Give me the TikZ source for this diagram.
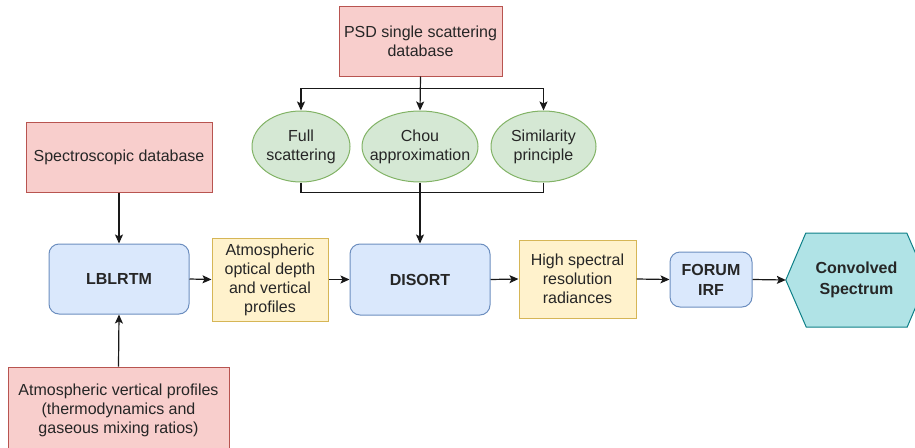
\documentclass[tikz,border=0pt]{standalone}
\usepackage{fontspec}
\setmainfont{Liberation Sans}
\usepackage{tikz}
\usepackage{xcolor}
\usetikzlibrary{arrows.meta,shapes.geometric}

\definecolor{redfill}{HTML}{F8CECC}
\definecolor{redline}{HTML}{B85450}
\definecolor{bluefill}{HTML}{DAE8FC}
\definecolor{blueline}{HTML}{6C8EBF}
\definecolor{yelfill}{HTML}{FFF2CC}
\definecolor{yelline}{HTML}{D6B656}
\definecolor{grnfill}{HTML}{D5E8D4}
\definecolor{grnline}{HTML}{82B366}
\definecolor{hexfill}{HTML}{B0E3E6}
\definecolor{hexline}{HTML}{0E8088}

\begin{document}
\begin{tikzpicture}[x=1pt,y=-1pt,
        every node/.style={font=\fontsize{16}{19}\selectfont, align=center, inner sep=0pt, text=black!85},
        every label/.style={font=\fontsize{16}{19}\selectfont, align=center, inner sep=0pt, text=black!85},
        redbox/.style={draw=redline, fill=redfill, line width=1pt},
        yelbox/.style={draw=yelline, fill=yelfill, line width=1pt},
        bluebox/.style={draw=blueline, fill=bluefill, line width=1pt, rounded corners=10pt, font=\fontsize{16}{20}\selectfont\bfseries},
        ellip/.style={ellipse, draw=grnline, fill=grnfill, line width=1pt, minimum height=71pt},
        arr/.style={-{Stealth[length=9pt,width=8pt,inset=2pt]}, line width=1.2pt, black!90}]
                \useasboundingbox (0,0) rectangle (915,447);
                \node[redbox, minimum width=163pt, minimum height=70pt] (psd) at (420.5,41) {PSD single scattering\\database};
                \node[ellip, minimum width=98pt, label=center:{Full\\scattering}] (full) at (301,146.5) {};
                \node[ellip, minimum width=116pt, label=center:{Chou\\approximation}] (chou) at (420,146.5) {};
                \node[ellip, minimum width=105pt, label=center:{Similarity\\principle}] (sim) at (543.5,146.5) {};
                \node[redbox, minimum width=186pt, minimum height=70pt] (spec) at (119,157) {Spectroscopic database};
                \node[redbox, minimum width=221pt, minimum height=86pt] (avp) at (118.5,410) {Atmospheric vertical profiles\\(thermodynamics and\\gaseous mixing ratios)};
                \node[bluebox, minimum width=140pt, minimum height=70pt] (lblrtm) at (119,279) {LBLRTM};
                \node[yelbox, minimum width=116pt, minimum height=83pt] (aod) at (270,279.5) {Atmospheric\\optical depth\\and vertical\\profiles};
                \node[bluebox, minimum width=140pt, minimum height=71pt] (disort) at (420,279.5) {DISORT};
                \node[yelbox, minimum width=117pt, minimum height=78pt] (hsr) at (577.5,279) {High spectral\\resolution\\radiances};
                \node[bluebox, minimum width=82pt, minimum height=55pt] (irf) at (711,279.5) {FORUM\\IRF};
                \node[minimum width=141pt, minimum height=94pt] (conv) at (856.5,280) {};
                \draw[draw=hexline, fill=hexfill, line width=1pt] (conv.west) -- ++(20,-47) -- ++(101,0) -- (conv.east) -- ++(-20,47) -- ++(-101,0) -- cycle;
                \node[font=\fontsize{16}{21}\selectfont\bfseries] at (conv.center) {Convolved\\Spectrum};
                \draw[arr] (psd.south) -- ++(0,12) -| (full.north);
                \draw[arr] (psd.south) -- (chou.north);
                \draw[arr] (psd.south) -- ++(0,12) -| (sim.north);
                \draw[line width=1.2pt, black!90] (full.south) -- ++(0,10) -| (sim.south);
                \draw[arr] (chou.south) -- (disort.north);
                \draw[arr] (spec.south) -- (lblrtm.north);
                \draw[arr] (avp.north) -- (lblrtm.south);
                \draw[arr] (lblrtm.east) -- (aod.west);
                \draw[arr] (aod.east) -- (disort.west);
                \draw[arr] (disort.east) -- (hsr.west);
                \draw[arr] (hsr.east) -- (irf.west);
                \draw[arr] (irf.east) -- (conv.west);
            \end{tikzpicture}
\end{document}
